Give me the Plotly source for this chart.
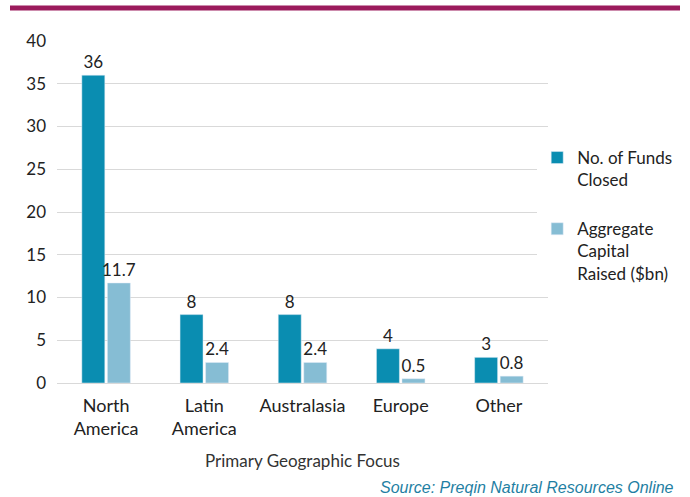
import plotly.graph_objects as go

categories = ["North<br>America", "Latin<br>America", "Australasia", "Europe", "Other"]
funds_closed = [36, 8, 8, 4, 3]
capital_raised = [11.7, 2.4, 2.4, 0.5, 0.8]
funds_labels = ["36", "8", "8", "4", "3"]
capital_labels = ["11.7", "2.4", "2.4", "0.5", "0.8"]

FONT = "Lato, 'Open Sans', sans-serif"
DARK = "#0a8db1"
LIGHT = "#86bdd4"
L, R, T, B = 57, 142, 41, 114
PW, PH = 690 - L - R, 497 - T - B

fig = go.Figure()
fig.add_trace(go.Bar(x=categories, y=funds_closed, name="No. of Funds<br>Closed",
                     legendgroup="a",
                     marker=dict(color=DARK), text=funds_labels, textposition="outside",
                     constraintext="none",
                     textfont=dict(size=17, color="#222"), cliponaxis=False))
fig.add_trace(go.Bar(x=categories, y=capital_raised, name="Aggregate<br>Capital<br>Raised ($bn)",
                     legendgroup="b",
                     marker=dict(color=LIGHT), text=capital_labels, textposition="outside",
                     constraintext="none",
                     textfont=dict(size=17, color="#222"), cliponaxis=False))

fig.update_layout(
    width=690, height=497,
    margin=dict(l=L, r=R, t=T, b=B, autoexpand=False),
    paper_bgcolor="white", plot_bgcolor="white",
    font=dict(family=FONT, size=17, color="#222"),
    barmode="group", bargap=0.48, bargroupgap=0.1,
    showlegend=True,
    legend=dict(x=0.978, y=(383 - 140) / PH, xanchor="left", yanchor="top",
                font=dict(size=17, color="#222"), tracegroupgap=24,
                itemwidth=30, traceorder="grouped", valign="top"),
    xaxis=dict(showline=True, linecolor="#d9d9d9", linewidth=1, ticks="",
               tickfont=dict(size=18), automargin=False, ticklabelstandoff=6),
    yaxis=dict(range=[0, 40], dtick=5, showgrid=True, gridcolor="#d9d9d9",
               zeroline=False, tickfont=dict(size=17), ticklabelstandoff=10,
               automargin=False),
    shapes=[dict(type="line", xref="paper", yref="paper",
                 x0=(10 - L) / PW, x1=(680 - L) / PW, y0=(497 - B - 8) / PH, y1=(497 - B - 8) / PH,
                 line=dict(color="#9b1b5c", width=5))],
    annotations=[
        dict(text="Primary Geographic Focus", xref="paper", yref="paper",
             x=0.5, y=-(460 - 383) / PH, xanchor="center", yanchor="middle",
             showarrow=False, font=dict(size=17, color="#333")),
        dict(text="<i>Source: Preqin Natural Resources Online</i>",
             xref="paper", yref="paper", x=(676 - L) / PW, y=-(487 - 383) / PH,
             xanchor="right", yanchor="middle", showarrow=False,
             font=dict(size=16, color="#1f7fa3", family="Arial, 'Liberation Sans', sans-serif")),
    ],
)

fig.write_html("out.html", config={"displayModeBar": False},
               post_script="document.body.style.margin='0';document.body.style.overflow='hidden';")
